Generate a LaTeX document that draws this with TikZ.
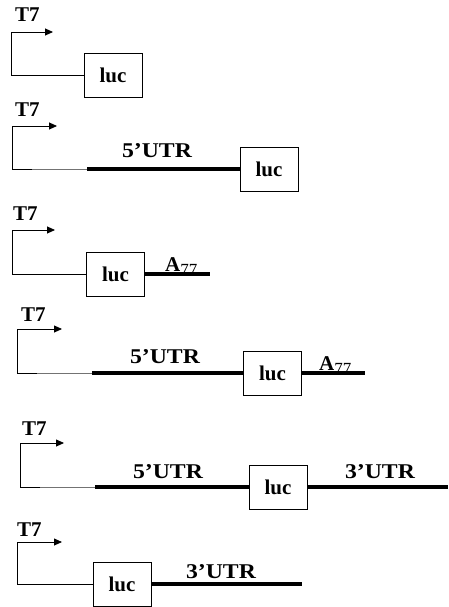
\documentclass[tikz,border=0pt]{standalone}
\usepackage{fontspec}
\setmainfont{Liberation Serif}
\usetikzlibrary{arrows.meta}
\newcommand{\polyA}{A\raisebox{-0.45ex}{\fontsize{17}{17}\selectfont\mdseries 77}}
\newcommand{\utrtext}[1]{\scalebox{1.13}[1]{#1}}
\begin{document}
\begin{tikzpicture}[x=1pt,y=-1pt,
  lbl/.style={font=\fontsize{21}{24}\selectfont\bfseries, inner sep=0pt},
  genebox/.style={draw, line width=0.9pt, minimum width=58pt, minimum height=44pt,
    inner sep=0pt, fill=white, font=\fontsize{21}{24}\selectfont\bfseries},
  promoter/.style={line width=0.85pt, -{Triangle[length=8pt,width=7pt]}},
  spacer/.style={line width=0.85pt, draw=black!55},
  utr/.style={line width=4.5pt},
]
\useasboundingbox (0,0) rectangle (448,607);

% ---- T7 - luc
\coordinate (p1) at (11,75);
\coordinate (t1) at (53,32);
\node[genebox] (luc1) at (113,75) {luc};
\node[lbl, anchor=base west] (T71) at (15,22) {T7};
\draw[promoter] (luc1.west) -- (p1) |- (t1);

% ---- T7 - 5'UTR - luc
\coordinate (p2) at (12,169);
\coordinate (t2) at (57,126);
\coordinate (q2) at (32,169);
\coordinate (s2) at (87,169);
\node[genebox] (luc2) at (269,169) {luc};
\node[lbl, anchor=base west] (T72) at (15,117) {T7};
\node[lbl, anchor=base] (u2) at (157,157) {\utrtext{5’UTR}};
\draw[spacer] (q2) -- (s2);
\draw[promoter] (q2) -- (p2) |- (t2);
\draw[utr] (s2) -- (luc2.west);

% ---- T7 - luc - A77
\coordinate (p3) at (12,274);
\coordinate (t3) at (55,230);
\coordinate (e3) at (210,274);
\node[genebox] (luc3) at (115.5,274) {luc};
\node[lbl, anchor=base west] (T73) at (13,220) {T7};
\node[lbl, anchor=base west] (a3) at (165,271) {\polyA};
\draw[promoter] (luc3.west) -- (p3) |- (t3);
\draw[utr] (luc3.east) -- (e3);

% ---- T7 - 5'UTR - luc - A77
\coordinate (p4) at (17,373);
\coordinate (t4) at (62,329);
\coordinate (q4) at (37,373);
\coordinate (s4) at (92,373);
\coordinate (e4) at (365,373);
\node[genebox] (luc4) at (272.5,373) {luc};
\node[lbl, anchor=base west] (T74) at (21,321) {T7};
\node[lbl, anchor=base] (u4) at (165,363) {\utrtext{5’UTR}};
\node[lbl, anchor=base west] (a4) at (319,370) {\polyA};
\draw[spacer] (q4) -- (s4);
\draw[promoter] (q4) -- (p4) |- (t4);
\draw[utr] (s4) -- (luc4.west);
\draw[utr] (luc4.east) -- (e4);

% ---- T7 - 5'UTR - luc - 3'UTR
\coordinate (p5) at (20,487);
\coordinate (t5) at (64,443);
\coordinate (q5) at (40,487);
\coordinate (s5) at (95,487);
\coordinate (e5) at (448,487);
\node[genebox] (luc5) at (278,487) {luc};
\node[lbl, anchor=base west] (T75) at (22,435) {T7};
\node[lbl, anchor=base] (u5) at (168,478) {\utrtext{5’UTR}};
\node[lbl, anchor=base] (v5) at (380,478) {\utrtext{3’UTR}};
\draw[spacer] (q5) -- (s5);
\draw[promoter] (q5) -- (p5) |- (t5);
\draw[utr] (s5) -- (luc5.west);
\draw[utr] (luc5.east) -- (e5);

% ---- T7 - luc - 3'UTR
\coordinate (p6) at (17,584);
\coordinate (t6) at (62,542);
\coordinate (e6) at (302,584);
\node[genebox] (luc6) at (122,584) {luc};
\node[lbl, anchor=base west] (T76) at (17,536) {T7};
\node[lbl, anchor=base] (v6) at (221,578) {\utrtext{3’UTR}};
\draw[promoter] (luc6.west) -- (p6) |- (t6);
\draw[utr] (luc6.east) -- (e6);
\end{tikzpicture}
\end{document}
